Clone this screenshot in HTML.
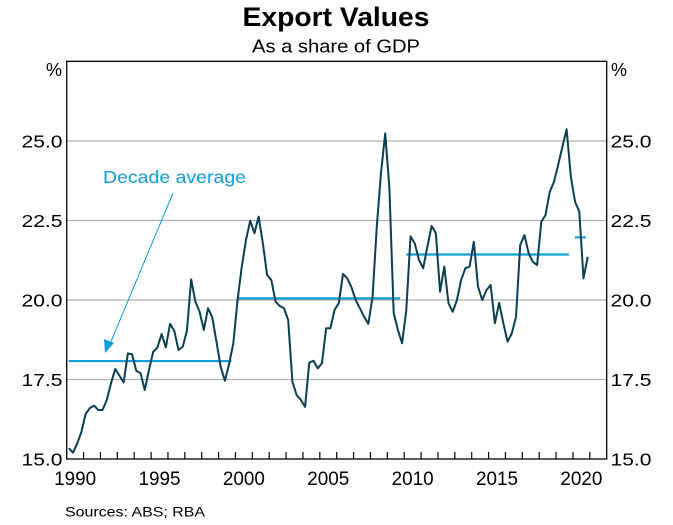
<!DOCTYPE html>
<html><head><meta charset="utf-8"><style>
html,body{margin:0;padding:0;background:#fff;}
svg{display:block;font-family:"Liberation Sans",Arial,sans-serif;}
</style></head><body>
<svg id="chart" width="673" height="525" viewBox="0 0 673 525">
<text x="336" y="26" text-anchor="middle" font-size="26.5" font-weight="bold" textLength="187" lengthAdjust="spacingAndGlyphs">Export Values</text>
<text x="336" y="52.5" text-anchor="middle" font-size="18" textLength="168" lengthAdjust="spacingAndGlyphs">As a share of GDP</text>
<g id="grid"></g>
<g id="ylabels"></g>
<text x="46" y="76" font-size="18">%</text>
<text x="611" y="76" font-size="18">%</text>
<g id="avgs"></g>
<path id="series" fill="none" stroke="#0b3f4f" stroke-width="2" stroke-linejoin="round"/>
<rect x="66.7" y="61.3" width="540" height="397.7" fill="none" stroke="#000" stroke-width="1.3"/>
<g id="xticks"></g>
<g id="xlabels"></g>
<text x="103" y="183" font-size="17.5" fill="#0e9fd8" textLength="143" lengthAdjust="spacingAndGlyphs">Decade average</text>
<line x1="173" y1="193" x2="110" y2="344" stroke="#0e9fd8" stroke-width="1"/>
<polygon points="105,353 104,339 114,343" fill="#0e9fd8"/>
<text x="65" y="516.5" font-size="14" textLength="140" lengthAdjust="spacingAndGlyphs">Sources: ABS; RBA</text>
</svg>
<script>
const startYear = 1990;
const values = [
15.34,15.20,15.49,15.86, 16.42,16.60,16.68,16.54, 16.54,16.86,17.38,17.83, 17.62,17.41,18.32,18.29,
17.77,17.70,17.17,17.80, 18.37,18.51,18.93,18.51, 19.25,19.03,18.43,18.53, 19.03,20.65,19.95,19.63,
19.06,19.74,19.46,18.69, 17.90,17.46,17.99,18.64,
20.00,21.05,21.89,22.49, 22.10,22.62,21.78,20.79, 20.63,19.95,19.81,19.74, 19.37,17.43,17.01,16.86,
16.64,18.03,18.09,17.85, 18.01,19.11,19.11,19.69, 19.90,20.82,20.68,20.40, 20.00,19.74,19.47,19.25,
20.10,22.30,24.00,25.24,
23.50,19.60,19.06,18.64, 19.69,22.00,21.78,21.26, 21.00,21.68,22.33,22.10, 20.26,21.05,19.90,19.63,
20.00,20.63,21.00,21.05, 21.83,20.42,20.00,20.31, 20.47,19.27,19.91,19.27, 18.69,18.95,19.47,21.73,
22.04,21.47,21.20,21.10, 22.46,22.67,23.40,23.72, 24.25,24.82,25.37,23.88, 23.09,22.78,20.68,21.36
];
const avgStart = [1990, 2000, 2010, 2020];
const avgEnd = [2000, 2010, 2020, 2021];
const avgValues = [18.08, 20.05, 21.43, 21.97];
const yTicks = [15, 17.5, 20, 22.5, 25];
const yTickLabels = ["15.0", "17.5", "20.0", "22.5", "25.0"];
const xLabelYears = [1990, 1995, 2000, 2005, 2010, 2015, 2020];

const NS = "http://www.w3.org/2000/svg";
const X0 = 66.7, PX = 16.875;
function xs(t){ return X0 + (t - startYear) * PX; }
function ys(v){ return 459 - (v - 15) * 31.8; }
function mk(tag, attrs, parent){ const e = document.createElementNS(NS, tag); for (const k in attrs) e.setAttribute(k, attrs[k]); parent.appendChild(e); return e; }

const grid = document.getElementById('grid'), yl = document.getElementById('ylabels');
yTicks.forEach((v, i) => {
  if (v > 15) {
    const g = mk('line', {x1: X0, x2: 606.7, y1: ys(v), y2: ys(v), stroke: '#b0b0b0', 'stroke-width': 1.2}, grid);
    
    
  }
  const a = mk('text', {x: 21.5, y: ys(v) + 6.5, 'font-size': 17.5, textLength: 41, lengthAdjust: 'spacingAndGlyphs'}, yl);
  a.textContent = yTickLabels[i];
  
  
  const b = mk('text', {x: 610.5, y: ys(v) + 6.5, 'font-size': 17.5, textLength: 41, lengthAdjust: 'spacingAndGlyphs'}, yl);
  b.textContent = yTickLabels[i];
  
  
});

const xt = document.getElementById('xticks');
for (let yr = startYear + 1; yr < 2022; yr++) {
  const t = mk('line', {x1: xs(yr), x2: xs(yr), y1: 459, y2: 452, stroke: '#000', 'stroke-width': 1.2}, xt);
  
  
}
const xl = document.getElementById('xlabels');
xLabelYears.forEach(yr => {
  const t = mk('text', {x: xs(yr + 0.5) - 21, y: 485, 'font-size': 19.5, textLength: 42, lengthAdjust: 'spacingAndGlyphs'}, xl);
  t.textContent = yr;
  
  
});

const av = document.getElementById('avgs');
avgValues.forEach((v, i) => {
  const l = mk('line', {x1: xs(avgStart[i]) + 2, x2: xs(avgEnd[i]) - 4, y1: ys(v), y2: ys(v), stroke: '#0e9fd8', 'stroke-width': 2.2}, av);
  
  
});

let d = '';
values.forEach((v, i) => {
  const t = startYear + i * 0.25 + 0.125;
  d += (i ? 'L' : 'M') + xs(t).toFixed(2) + ',' + ys(v).toFixed(2);
});
document.getElementById('series').setAttribute('d', d);
</script>
</body></html>
